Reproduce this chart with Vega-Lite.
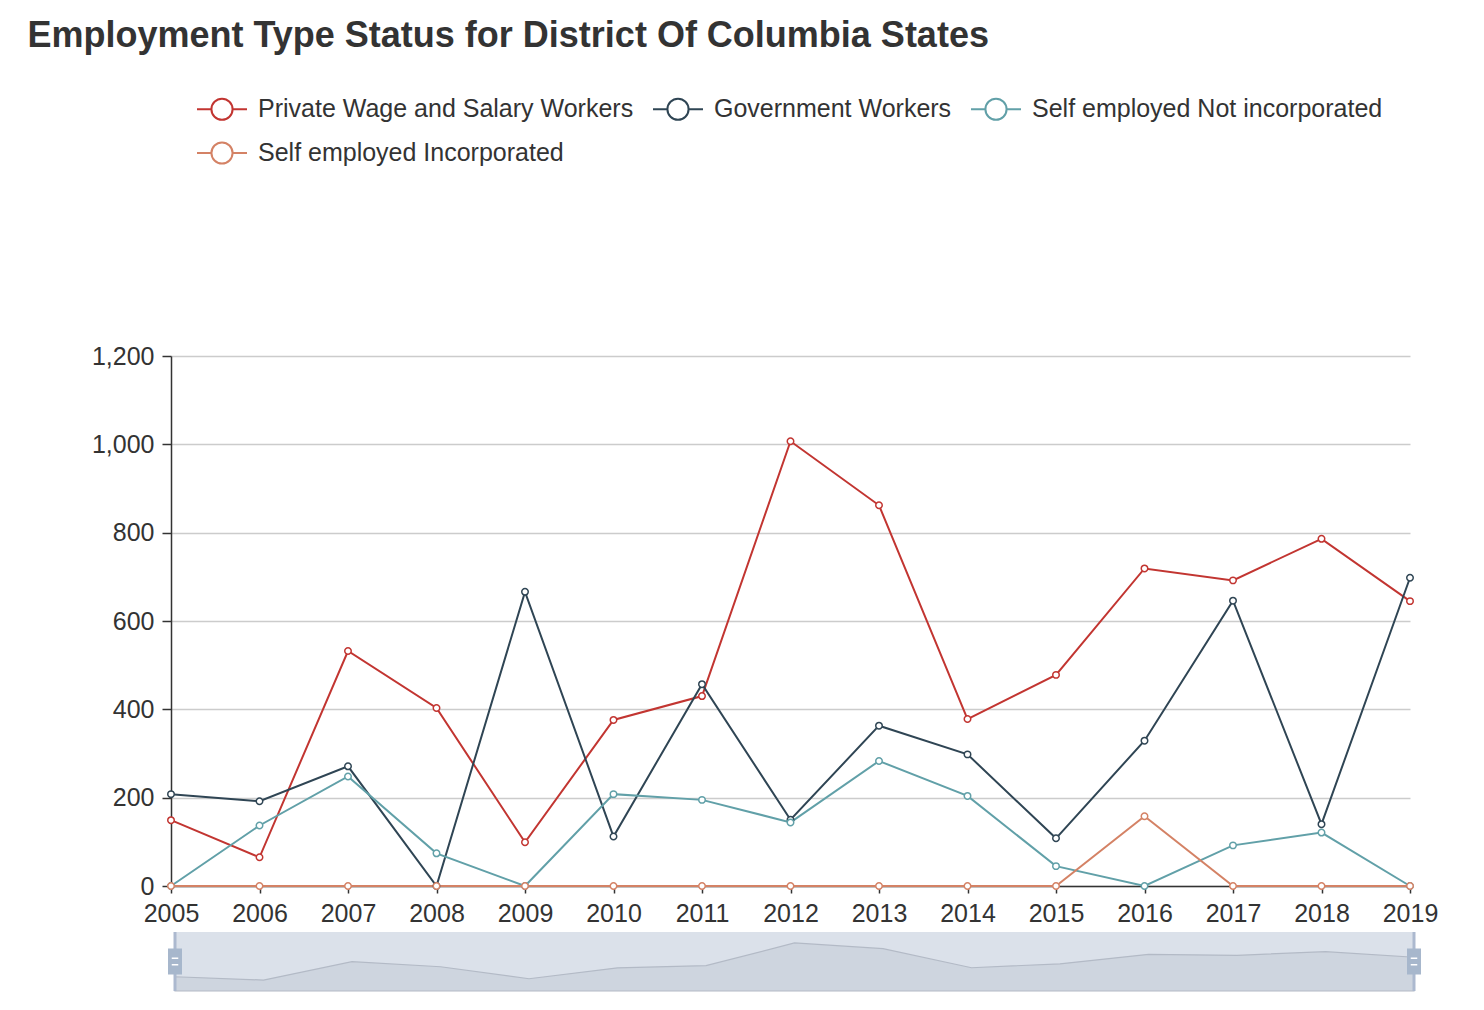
{
  "$schema": "https://vega.github.io/schema/vega-lite/v6.json",
  "padding": {"left": 27, "top": 18, "right": 20, "bottom": 10},
  "background": "white",
  "title": {
    "text": "Employment Type Status for District Of Columbia States",
    "anchor": "start",
    "fontSize": 36,
    "font": "Liberation Sans",
    "fontWeight": "bold",
    "color": "#333333",
    "frame": "bounds",
    "dx": -64,
    "offset": 31
  },
  "config": {
    "font": "Liberation Sans",
    "view": {"stroke": null},
    "concat": {"spacing": 4}
  },
  "datasets": {
    "main": [
      {"year": 2005, "series": "Private Wage and Salary Workers", "value": 149},
      {"year": 2006, "series": "Private Wage and Salary Workers", "value": 65},
      {"year": 2007, "series": "Private Wage and Salary Workers", "value": 532},
      {"year": 2008, "series": "Private Wage and Salary Workers", "value": 403},
      {"year": 2009, "series": "Private Wage and Salary Workers", "value": 99},
      {"year": 2010, "series": "Private Wage and Salary Workers", "value": 376},
      {"year": 2011, "series": "Private Wage and Salary Workers", "value": 430},
      {"year": 2012, "series": "Private Wage and Salary Workers", "value": 1007},
      {"year": 2013, "series": "Private Wage and Salary Workers", "value": 862},
      {"year": 2014, "series": "Private Wage and Salary Workers", "value": 378},
      {"year": 2015, "series": "Private Wage and Salary Workers", "value": 478},
      {"year": 2016, "series": "Private Wage and Salary Workers", "value": 719},
      {"year": 2017, "series": "Private Wage and Salary Workers", "value": 692},
      {"year": 2018, "series": "Private Wage and Salary Workers", "value": 786},
      {"year": 2019, "series": "Private Wage and Salary Workers", "value": 645},
      {"year": 2005, "series": "Government Workers", "value": 208},
      {"year": 2006, "series": "Government Workers", "value": 192},
      {"year": 2007, "series": "Government Workers", "value": 271},
      {"year": 2008, "series": "Government Workers", "value": 0},
      {"year": 2009, "series": "Government Workers", "value": 666},
      {"year": 2010, "series": "Government Workers", "value": 112},
      {"year": 2011, "series": "Government Workers", "value": 457},
      {"year": 2012, "series": "Government Workers", "value": 150},
      {"year": 2013, "series": "Government Workers", "value": 363},
      {"year": 2014, "series": "Government Workers", "value": 298},
      {"year": 2015, "series": "Government Workers", "value": 108},
      {"year": 2016, "series": "Government Workers", "value": 329},
      {"year": 2017, "series": "Government Workers", "value": 646},
      {"year": 2018, "series": "Government Workers", "value": 140},
      {"year": 2019, "series": "Government Workers", "value": 698},
      {"year": 2005, "series": "Self employed Not incorporated", "value": 0},
      {"year": 2006, "series": "Self employed Not incorporated", "value": 137},
      {"year": 2007, "series": "Self employed Not incorporated", "value": 248},
      {"year": 2008, "series": "Self employed Not incorporated", "value": 74},
      {"year": 2009, "series": "Self employed Not incorporated", "value": 0},
      {"year": 2010, "series": "Self employed Not incorporated", "value": 208},
      {"year": 2011, "series": "Self employed Not incorporated", "value": 195},
      {"year": 2012, "series": "Self employed Not incorporated", "value": 144},
      {"year": 2013, "series": "Self employed Not incorporated", "value": 283},
      {"year": 2014, "series": "Self employed Not incorporated", "value": 204},
      {"year": 2015, "series": "Self employed Not incorporated", "value": 45},
      {"year": 2016, "series": "Self employed Not incorporated", "value": 0},
      {"year": 2017, "series": "Self employed Not incorporated", "value": 92},
      {"year": 2018, "series": "Self employed Not incorporated", "value": 121},
      {"year": 2019, "series": "Self employed Not incorporated", "value": 0},
      {"year": 2005, "series": "Self employed Incorporated", "value": 0},
      {"year": 2006, "series": "Self employed Incorporated", "value": 0},
      {"year": 2007, "series": "Self employed Incorporated", "value": 0},
      {"year": 2008, "series": "Self employed Incorporated", "value": 0},
      {"year": 2009, "series": "Self employed Incorporated", "value": 0},
      {"year": 2010, "series": "Self employed Incorporated", "value": 0},
      {"year": 2011, "series": "Self employed Incorporated", "value": 0},
      {"year": 2012, "series": "Self employed Incorporated", "value": 0},
      {"year": 2013, "series": "Self employed Incorporated", "value": 0},
      {"year": 2014, "series": "Self employed Incorporated", "value": 0},
      {"year": 2015, "series": "Self employed Incorporated", "value": 0},
      {"year": 2016, "series": "Self employed Incorporated", "value": 158},
      {"year": 2017, "series": "Self employed Incorporated", "value": 0},
      {"year": 2018, "series": "Self employed Incorporated", "value": 0},
      {"year": 2019, "series": "Self employed Incorporated", "value": 0}
    ],
    "handles": [{"year": 2005}, {"year": 2019}]
  },
  "resolve": {"legend": {"stroke": "independent"}},
  "vconcat": [
    {
      "width": 1239,
      "height": 530,
      "data": {"name": "main"},
      "encoding": {
        "x": {
          "field": "year",
          "type": "quantitative",
          "scale": {"domain": [2005, 2019], "nice": false, "zero": false},
          "axis": {
            "title": null,
            "values": [2005, 2006, 2007, 2008, 2009, 2010, 2011, 2012, 2013, 2014, 2015, 2016, 2017, 2018, 2019],
            "format": "d",
            "grid": false,
            "labelFontSize": 25,
            "labelColor": "#333333",
            "labelFlush": false,
            "labelPadding": 8,
            "tickSize": 7,
            "tickColor": "#333333",
            "tickWidth": 1.5,
            "domainColor": "#333333",
            "domainWidth": 1.5
          }
        },
        "y": {
          "field": "value",
          "type": "quantitative",
          "scale": {"domain": [0, 1200], "nice": false},
          "axis": {
            "title": null,
            "values": [0, 200, 400, 600, 800, 1000, 1200],
            "format": ",d",
            "grid": true,
            "gridColor": "#cccccc",
            "gridWidth": 1.5,
            "labelFontSize": 25,
            "labelColor": "#333333",
            "labelPadding": 8,
            "tickSize": 9,
            "tickColor": "#333333",
            "tickWidth": 1.5,
            "domainColor": "#333333",
            "domainWidth": 1.5
          }
        },
        "stroke": {
          "field": "series",
          "type": "nominal",
          "scale": {
            "domain": ["Private Wage and Salary Workers", "Government Workers", "Self employed Not incorporated", "Self employed Incorporated"],
            "range": ["#c23531", "#2f4554", "#61a0a8", "#d48265"]
          },
          "legend": {
            "title": null,
            "orient": "none",
            "legendX": 28,
            "legendY": -270,
            "direction": "horizontal",
            "columns": 3,
            "symbolType": "M-1.136,0H-0.48M0.48,0H1.136M-0.48,0A0.48,0.48 0 1,1 0.48,0A0.48,0.48 0 1,1 -0.48,0",
            "symbolSize": 1936,
            "symbolStrokeWidth": 2,
            "symbolFillColor": "white",
            "symbolOpacity": 1,
            "labelFontSize": 25,
            "labelColor": "#333333",
            "labelOffset": 13,
            "labelLimit": 0,
            "columnPadding": 15,
            "rowPadding": 6
          }
        }
      },
      "layer": [
        {"mark": {"type": "line", "strokeWidth": 2}},
        {"mark": {"type": "point", "shape": "circle", "filled": false, "fill": "white", "fillOpacity": 1, "opacity": 1, "size": 42, "strokeWidth": 1.5}}
      ]
    },
    {
      "width": 1243,
      "height": 59,
      "layer": [
        {
          "data": {"values": [{"a": 1}]},
          "mark": {"type": "rect", "fill": "#dbe1ea"},
          "encoding": {
            "x": {"datum": 2005, "type": "quantitative", "scale": {"domain": [2005, 2019], "range": [4, 1243], "nice": false, "zero": false}, "axis": null},
            "x2": {"datum": 2019},
            "y": {"datum": -212, "type": "quantitative", "scale": {"domain": [-212, 1284], "nice": false, "zero": false}, "axis": null},
            "y2": {"datum": 1284}
          }
        },
        {
          "data": {"name": "main"},
          "transform": [{"filter": "datum.series === 'Private Wage and Salary Workers'"}],
          "mark": {"type": "area", "fill": "#ced5df", "stroke": "#b3bac6", "strokeWidth": 1.2},
          "encoding": {
            "x": {"field": "year", "type": "quantitative"},
            "y": {"field": "value", "type": "quantitative"},
            "y2": {"datum": -212}
          }
        },
        {
          "data": {"name": "handles"},
          "mark": {"type": "rule", "stroke": "#acb9cf", "strokeWidth": 3},
          "encoding": {
            "x": {"field": "year", "type": "quantitative"},
            "y": {"datum": -212},
            "y2": {"datum": 1284}
          }
        },
        {
          "data": {"name": "handles"},
          "mark": {"type": "point", "shape": "M-0.54,-1H0.54V1H-0.54Z", "filled": true, "fill": "#a7b7cc", "opacity": 1, "size": 676, "strokeWidth": 0},
          "encoding": {
            "x": {"field": "year", "type": "quantitative"},
            "y": {"datum": 536}
          }
        },
        {
          "data": {"name": "handles"},
          "mark": {"type": "point", "shape": "M-0.25,-0.25H0.25M-0.25,0.25H0.25", "filled": false, "stroke": "#ffffff", "opacity": 1, "size": 676, "strokeWidth": 1.5},
          "encoding": {
            "x": {"field": "year", "type": "quantitative"},
            "y": {"datum": 536}
          }
        }
      ]
    }
  ]
}
